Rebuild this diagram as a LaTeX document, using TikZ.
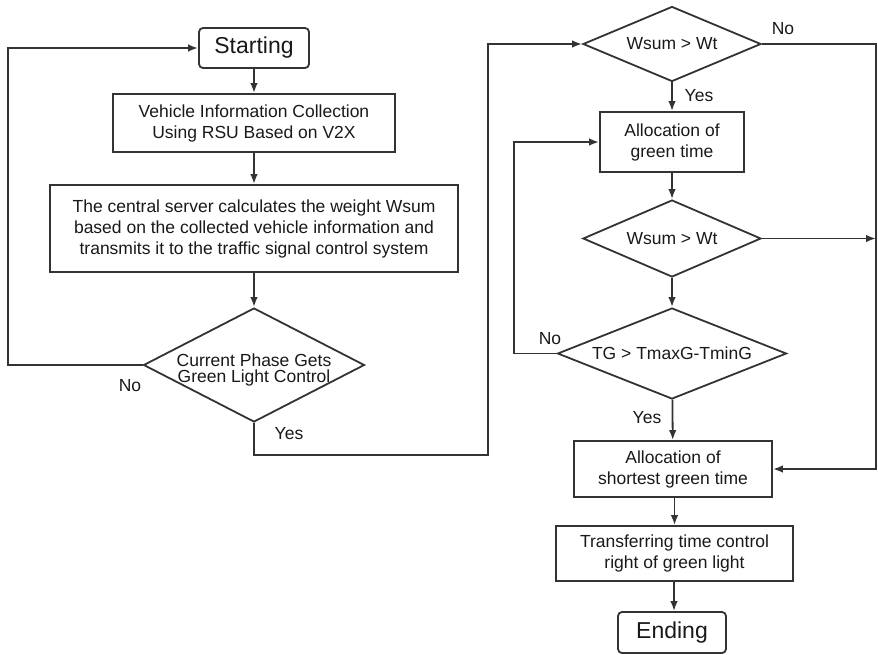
\documentclass[tikz,border=0pt]{standalone}
\usepackage{fontspec}
\setmainfont{Liberation Sans}
\usepackage{tikz}
\usetikzlibrary{shapes,arrows.meta,positioning}

\newcommand{\boxfont}{\fontsize{17.5}{21}\selectfont}
\newcommand{\termfont}{\fontsize{23}{26}\selectfont}

\tikzset{
  flowline/.style={line width=1.8pt, draw=black!80},
  flowarrow/.style={flowline, -{Latex[length=10pt,width=7.5pt]}},
  procbox/.style={draw=black!80, line width=1.8pt, align=center, inner sep=0pt, font=\boxfont, text=black!90},
  termbox/.style={procbox, rounded corners=4pt, font=\termfont},
  decision/.style={draw=black!80, line width=1.8pt, diamond, inner sep=2pt, align=center, font=\boxfont, text=black!90},
  answer/.style={font=\boxfont, text=black!90}
}

\begin{document}
\begin{tikzpicture}[x=1pt, y=-1pt]
\def \loopleft {8}
\def \loopmid {514}
\def \loopyes {488}
\def \loopright {876}
\useasboundingbox (0,0) rectangle (878,654);

%left column
\node[termbox, minimum width=110, minimum height=40] (start) at (254,48) {Starting};
\node[procbox, minimum width=282, minimum height=58] (collect) at (254,123) {Vehicle Information Collection\\Using RSU Based on V2X};
\node[procbox, minimum width=408, minimum height=87] (server) at (254,228.5) {The central server calculates the weight Wsum\\based on the collected vehicle information and\\transmits it to the traffic signal control system};
\node[decision, minimum width=221, minimum height=114, aspect=1.94,
  label={[font=\fontsize{17.5}{16.5}\selectfont, text=black!90, align=center, yshift=-5pt]center:Current Phase Gets\\Green Light Control}] (phase) at (254,365) {};

%right column
\node[decision, minimum width=178, minimum height=75, aspect=2.37] (check1) at (672,44) {Wsum > Wt};
\node[procbox, minimum width=144, minimum height=60] (green) at (672,142) {Allocation of\\green time};
\node[decision, minimum width=178, minimum height=77, aspect=2.37] (check2) at (672,238.5) {Wsum > Wt};
\node[decision, minimum width=229, minimum height=91, aspect=2.52] (tgcheck) at (672,353.5) {TG > TmaxG-TminG};
\node[procbox, minimum width=198, minimum height=56] (shortest) at (673,469) {Allocation of\\shortest green time};
\node[procbox, minimum width=237, minimum height=55] (transfer) at (674.5,553.5) {Transferring time control\\right of green light};
\node[termbox, minimum width=108, minimum height=41] (ending) at (672,632.5) {Ending};

%loop ends
\coordinate (leftrail) at (\loopleft,0);
\coordinate (midrail) at (\loopmid,0);
\coordinate (rightrail) at (\loopright,0);
\coordinate (yesturn) at (\loopyes,455);

%straight arrows
\draw[flowarrow] (start) -- (collect);
\draw[flowarrow] (collect) -- (server);
\draw[flowarrow] (server) -- (phase);
\draw[flowarrow] (check1) -- (green);
\draw[flowarrow] (green) -- (check2);
\draw[flowarrow] (check2) -- (tgcheck);
\draw[flowarrow] (tgcheck) -- (shortest);
\draw[flowarrow] (shortest.south -| transfer) -- (transfer);
\draw[flowarrow] (transfer.south -| 674,0) -- (ending.north -| 674,0);

%No back to start
\draw[flowarrow] (phase.west) -- (phase.west -| leftrail) |- (start.west);
\node[answer] (nophase) at (130,386) {No};

%Yes over to the right column
\draw[flowarrow] (phase.south) |- (yesturn) |- (check1.west);
\node[answer] (yesphase) at (289,434) {Yes};

\node[answer] (yescheck) at (699,96) {Yes};

%No down the right side
\draw[flowarrow] (check1.east) -- (check1.east -| rightrail) |- (shortest.east);
\node[answer] (nocheck) at (783,29) {No};
\draw[flowarrow] (check2.east) -- (check2.east -| rightrail);

%TG loop
\draw[flowarrow] (tgcheck.west) -- (tgcheck.west -| midrail) |- (green.west);
\node[answer] (notg) at (550,339) {No};
\node[answer] (yestg) at (647,418) {Yes};

\end{tikzpicture}
\end{document}
